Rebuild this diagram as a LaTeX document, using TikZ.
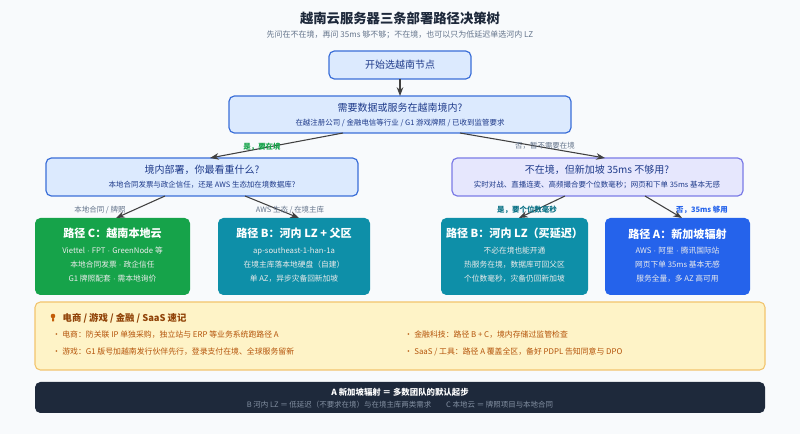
\documentclass[tikz,border=0pt]{standalone}
\usepackage{fontspec}
\setmainfont{Noto Sans CJK SC}
\newfontfamily\latinfont{Liberation Sans}
\newcommand{\md}{{\latinfont\ ·\ }}
\usetikzlibrary{
  arrows.meta,
  positioning,  % relative placement
  calc,         % Calculations $...$
}
\definecolor{bgcol}{HTML}{F8FAFC}
\definecolor{qfill}{HTML}{DCEAFE}
\definecolor{qdraw}{HTML}{3B6FD8}
\definecolor{qtext}{HTML}{1E3A8A}
\definecolor{pfill}{HTML}{E6E7FD}
\definecolor{pdraw}{HTML}{7B7BE6}
\definecolor{pgreen}{HTML}{16A34A}
\definecolor{pteal}{HTML}{0E8FA8}
\definecolor{pblue}{HTML}{2563EB}
\definecolor{nfill}{HTML}{FEF3C7}
\definecolor{ndraw}{HTML}{F2C46D}
\definecolor{ntext}{HTML}{B45309}
\definecolor{dark}{HTML}{1E293B}
\definecolor{gtext}{HTML}{64748B}
\tikzset{
  x=0.75pt, y=-0.75pt,
  >=Stealth,
  my arrow/.style={
    ->, draw=black!75, line width=0.8pt
  },
  my label/.style={
    font=\fontsize{5.6}{6}\selectfont, text=gtext
  },
  my bold label/.style={
    font=\bfseries\fontsize{5.6}{6}\selectfont
  },
  q title/.style={font=\fontsize{7.5}{9}\selectfont},
  q sub/.style={font=\fontsize{5.6}{7}\selectfont},
  p title/.style={font=\bfseries\fontsize{8.3}{10}\selectfont, text=white},
  p sub/.style={font=\fontsize{5.8}{7}\selectfont, text=white!92!black},
}
\newcommand{\boxat}[6]{% name, style, x1, y1, x2, y2
  \path[#2] (#3,#4) rectangle (#5,#6);
  \coordinate (#1nw) at (#3,#4);
  \coordinate (#1se) at (#5,#6);
  \coordinate (#1) at ($(#1nw)!0.5!(#1se)$);
}
\begin{document}
\begin{tikzpicture}
\fill[bgcol] (0,0) rectangle (800,434);
\useasboundingbox (0,0) rectangle (800,434);

% title
\node[font=\bfseries\fontsize{10}{12}\selectfont, text=dark] (title) at (400,18) {越南云服务器三条部署路径决策树};
\node[font=\fontsize{6}{7}\selectfont, text=gtext] (subtitle) at (400,35)
  {先问在不在境，再问 35ms 够不够；不在境，也可以只为低延迟单选河内 LZ};

% questions
\boxat{start}{draw=qdraw,fill=qfill,line width=0.9pt,rounded corners=4pt}{329}{51}{471}{79}
\node[q title, text=qtext] (startt) at (start) {开始选越南节点};

\boxat{qa}{draw=qdraw,fill=qfill,line width=0.9pt,rounded corners=4pt}{229}{96}{571}{133}
\node[q title, text=qtext] (qat) at (400,108) {需要数据或服务在越南境内?};
\node[q sub, text=qtext] (qas) at (400,123) {在越注册公司 / 金融电信等行业 / G1 游戏牌照 / 已收到监管要求};

\boxat{qb}{draw=qdraw,fill=qfill,line width=0.9pt,rounded corners=4pt}{46}{158}{358}{196}
\node[q title, text=qtext] (qbt) at (202,170) {境内部署，你最看重什么?};
\node[q sub, text=qtext] (qbs) at (202,185) {本地合同发票与政企信任，还是 AWS 生态加在境数据库?};

\boxat{qc}{draw=pdraw,fill=pfill,line width=0.9pt,rounded corners=4pt}{452}{158}{743}{196}
\node[q title, text=qtext] (qct) at (597,170) {不在境，但新加坡 35ms 不够用?};
\node[q sub, text=qtext] (qcs) at (597,185) {实时对战、直播连麦、高频撮合要个位数毫秒；网页和下单 35ms 基本无感};

% paths
\boxat{pc}{fill=pgreen,rounded corners=4pt}{35}{218}{190}{295}
\node[p title] (pct) at (112.5,233) {路径 C：越南本地云};
\node[p sub] (pc1) at (112.5,251) {Viettel\md FPT\md GreenNode 等};
\node[p sub] (pc2) at (112.5,265) {本地合同发票\md 政企信任};
\node[p sub] (pc3) at (112.5,279) {G1 牌照配套\md 需本地询价};

\boxat{pb}{fill=pteal,rounded corners=4pt}{218}{218}{370}{295}
\node[p title] (pbt) at (294,233) {路径 B：河内 LZ + 父区};
\node[p sub] (pb1) at (294,251) {ap-southeast-1-han-1a};
\node[p sub] (pb2) at (294,265) {在境主库落本地硬盘（自建）};
\node[p sub] (pb3) at (294,279) {单 AZ，异步灾备回新加坡};

\boxat{pd}{fill=pteal,rounded corners=4pt}{441}{218}{588}{295}
\node[p title] (pdt) at (514.5,233) {路径 B：河内 LZ（买延迟）};
\node[p sub] (pd1) at (514.5,251) {不必在境也能开通};
\node[p sub] (pd2) at (514.5,265) {热服务在境，数据库可回父区};
\node[p sub] (pd3) at (514.5,279) {个位数毫秒，灾备仍回新加坡};

\boxat{pa}{fill=pblue,rounded corners=4pt}{605}{218}{750}{295}
\node[p title] (pat) at (677.5,234) {路径 A：新加坡辐射};
\node[p sub] (pa1) at (677.5,251) {AWS\md 阿里\md 腾讯国际站};
\node[p sub] (pa2) at (677.5,265) {网页下单 35ms 基本无感};
\node[p sub] (pa3) at (677.5,279) {服务全量，多 AZ 高可用};

% connectors
\coordinate (a1) at (400,79);  \coordinate (a2) at (400,96);
\draw[my arrow] (a1) -- (a2);
\coordinate (b1) at (343,133); \coordinate (b2) at (210,158);
\draw[my arrow] (b1) -- (b2);
\node[my bold label, text=pgreen] (lb) at (262,147) {是，要在境};
\coordinate (c1) at (460,133); \coordinate (c2) at (605,158);
\draw[my arrow] (c1) -- (c2);
\node[my label] (lc) at (545,146) {否，暂不需要在境};
\coordinate (d1) at (165,196); \coordinate (d2) at (116,218);
\draw[my arrow] (d1) -- (d2);
\node[my label] (ld) at (100,210) {本地合同 / 牌照};
\coordinate (e1) at (245,196); \coordinate (e2) at (299,218);
\draw[my arrow] (e1) -- (e2);
\node[my label] (le) at (290,210) {AWS 生态 / 在境主库};
\coordinate (f1) at (565,196); \coordinate (f2) at (519,218);
\draw[my arrow] (f1) -- (f2);
\node[my bold label, text=pteal!80!black] (lf) at (527,210) {是，要个位数毫秒};
\coordinate (g1) at (645,196); \coordinate (g2) at (682,218);
\draw[my arrow] (g1) -- (g2);
\node[my bold label, text=pblue] (lg) at (702,210) {否，35ms 够用};

% notes
\boxat{notes}{fill=nfill,draw=ndraw,line width=0.8pt,rounded corners=4pt}{35}{302}{765}{370}
\fill[ntext!80!orange] (53,316) circle (2.3) (52,318.5) rectangle (54,321.5);
\node[anchor=west, font=\bfseries\fontsize{7}{8}\selectfont, text=ntext!80!black] (notet) at (58,318) {电商 / 游戏 / 金融 / SaaS 速记};
\node[anchor=west, font=\fontsize{5.9}{7}\selectfont, text=ntext] (n1) at (48,335) {• 电商：防关联 IP 单独采购，独立站与 ERP 等业务系统跑路径 A};
\node[anchor=west, font=\fontsize{5.9}{7}\selectfont, text=ntext] (n2) at (48,352) {• 游戏：G1 版号加越南发行伙伴先行，登录支付在境、全球服务留新};
\node[anchor=west, font=\fontsize{5.9}{7}\selectfont, text=ntext] (n3) at (400,335) {• 金融科技：路径 B + C，境内存储过监管检查};
\node[anchor=west, font=\fontsize{5.9}{7}\selectfont, text=ntext] (n4) at (400,352) {• SaaS / 工具：路径 A 覆盖全区，备好 PDPL 告知同意与 DPO};

% summary
\boxat{sum}{fill=dark,rounded corners=4pt}{35}{382}{765}{413}
\node[font=\bfseries\fontsize{6.3}{7}\selectfont, text=white] (sum1) at (400,392) {A 新加坡辐射 ＝ 多数团队的默认起步};
\node[font=\fontsize{5.6}{7}\selectfont, text=gtext!80!white] (sum2) at (400,405) {B 河内 LZ ＝ 低延迟（不要求在境）与在境主库两类需求\qquad C 本地云 ＝ 牌照项目与本地合同};
\end{tikzpicture}
\end{document}
